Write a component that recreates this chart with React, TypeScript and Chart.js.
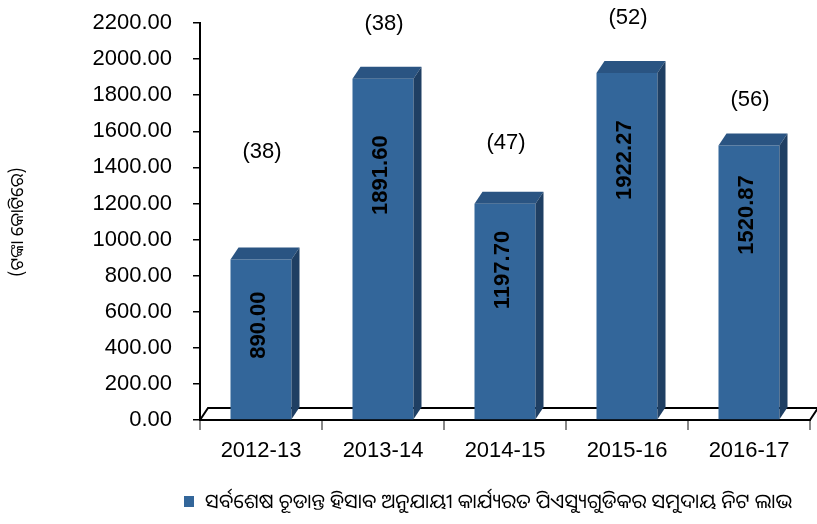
import React, { useEffect, useRef } from "react";
import { Chart, registerables } from "chart.js";

Chart.register(...registerables);

const categories = ["2012-13", "2013-14", "2014-15", "2015-16", "2016-17"];
const netProfit = [890.0, 1891.6, 1197.7, 1922.27, 1520.87];
const psuCounts = [38, 38, 47, 52, 56];
const seriesLabel =
  "ସର୍ବଶେଷ ଚୂଡାନ୍ତ ହିସାବ ଅନୁଯାୟୀ କାର୍ଯ୍ୟରତ ପିଏସ୍ୟୁଗୁଡିକର ସମୁଦାୟ ନିଟ ଲାଭ";
const yAxisTitle = "(ଟଙ୍କା କୋଟିରେ)";
const yMin = 0;
const yMax = 2200;
const yStep = 200;

const FONT = "'Liberation Sans', Arial, sans-serif";
const ODIA_FONT = "'Noto Sans Oriya', 'Noto Sans', 'Lohit Odia', sans-serif";

const DX = 8;
const DY = 12;

const decorPlugin = {
  id: "decor",
  beforeDatasetsDraw(chart: any) {
    const { ctx, chartArea } = chart;
    const y = chart.scales.y;
    const base = y.getPixelForValue(0);
    const l = chartArea.left;
    const r = chartArea.right;
    ctx.save();
    ctx.strokeStyle = "#000";
    ctx.lineWidth = 2;
    ctx.beginPath();
    ctx.moveTo(l, base);
    ctx.lineTo(l + DX, base - DY);
    ctx.lineTo(r + DX, base - DY);
    ctx.lineTo(r, base);
    ctx.stroke();
    ctx.restore();
  },
  afterDatasetsDraw(chart: any, _args: any, opts: any) {
    const { ctx } = chart;
    const y = chart.scales.y;
    const meta = chart.getDatasetMeta(0);
    ctx.save();
    meta.data.forEach((bar: any, i: number) => {
      const half = bar.width / 2;
      const left = bar.x - half;
      const right = bar.x + half;
      const top = bar.y;
      const bottom = bar.base;
      ctx.fillStyle = "#2a5482";
      ctx.beginPath();
      ctx.moveTo(left, top);
      ctx.lineTo(left + DX, top - DY);
      ctx.lineTo(right + DX, top - DY);
      ctx.lineTo(right, top);
      ctx.closePath();
      ctx.fill();
      ctx.fillStyle = "#1f3f63";
      ctx.beginPath();
      ctx.moveTo(right, top);
      ctx.lineTo(right + DX, top - DY);
      ctx.lineTo(right + DX, bottom - DY);
      ctx.lineTo(right, bottom);
      ctx.closePath();
      ctx.fill();

      const vy = y.getPixelForValue(opts.valueLevels[i]);
      ctx.save();
      ctx.translate(bar.x - 2, vy);
      ctx.rotate(-Math.PI / 2);
      ctx.fillStyle = "#000";
      ctx.font = "bold 22px " + FONT;
      ctx.textAlign = "center";
      ctx.textBaseline = "middle";
      ctx.fillText(netProfit[i].toFixed(2), 0, 0);
      ctx.restore();

      const py = y.getPixelForValue(opts.countLevels[i]);
      ctx.fillStyle = "#000";
      ctx.font = "22px " + FONT;
      ctx.textAlign = "center";
      ctx.textBaseline = "middle";
      ctx.fillText("(" + psuCounts[i] + ")", bar.x + 1, py);
    });

    ctx.save();
    ctx.translate(18, 222);
    ctx.rotate(-Math.PI / 2);
    ctx.fillStyle = "#000";
    ctx.font = "18px " + ODIA_FONT;
    ctx.textAlign = "center";
    ctx.textBaseline = "middle";
    ctx.fillText(yAxisTitle, 0, 0);
    ctx.restore();

    ctx.fillStyle = "#33669a";
    ctx.fillRect(184, 496, 10, 11);
    ctx.fillStyle = "#000";
    ctx.font = "20px " + ODIA_FONT;
    ctx.textAlign = "left";
    ctx.textBaseline = "middle";
    ctx.fillText(seriesLabel, 205, 502);
    ctx.restore();
  },
};

export default function App() {
  const ref = useRef<HTMLCanvasElement | null>(null);
  useEffect(() => {
    if (!ref.current) return;
    const chart = new Chart(ref.current, {
      type: "bar",
      data: {
        labels: categories,
        datasets: [
          {
            label: seriesLabel,
            data: netProfit,
            backgroundColor: "#33669a",
            borderWidth: 0,
            barPercentage: 0.5,
            categoryPercentage: 1,
          },
        ],
      },
      options: {
        animation: false,
        responsive: true,
        maintainAspectRatio: false,
        layout: { padding: { top: 23, right: 7, bottom: 0, left: 0 } },
        plugins: {
          legend: { display: false },
          tooltip: { enabled: false },
          decor: {
            valueLevels: [526, 1357, 831, 1440, 1136],
            countLevels: [1485, 2194, 1535, 2227, 1773],
          },
        } as any,
        scales: {
          x: {
            offset: true,
            grid: {
              offset: true,
              drawOnChartArea: false,
              tickLength: 10,
              color: "#888",
              lineWidth: 2,
            },
            border: { color: "#000", width: 2 },
            ticks: {
              color: "#000",
              font: { family: FONT, size: 22 },
              padding: 8,
              maxRotation: 0,
            },
            afterFit: (s: any) => {
              s.height = 104;
              s.paddingLeft = 0;
              s.paddingRight = 0;
            },
          },
          y: {
            min: yMin,
            max: yMax,
            grid: {
              drawOnChartArea: false,
              tickLength: 7,
              color: "#000",
              lineWidth: 1.5,
            },
            border: { color: "#000", width: 2 },
            ticks: {
              stepSize: yStep,
              color: "#000",
              font: { family: FONT, size: 22 },
              padding: 21,
              callback: (v: any) => Number(v).toFixed(2),
            },
            afterFit: (s: any) => {
              s.width = 200;
              s.paddingTop = 0;
              s.paddingBottom = 0;
            },
          },
        },
      },
      plugins: [decorPlugin],
    });
    return () => chart.destroy();
  }, []);
  return (
    <div
      style={{
        position: "fixed",
        left: 0,
        top: 0,
        width: 817,
        height: 524,
        background: "#fff",
      }}
    >
      <canvas ref={ref} />
    </div>
  );
}
